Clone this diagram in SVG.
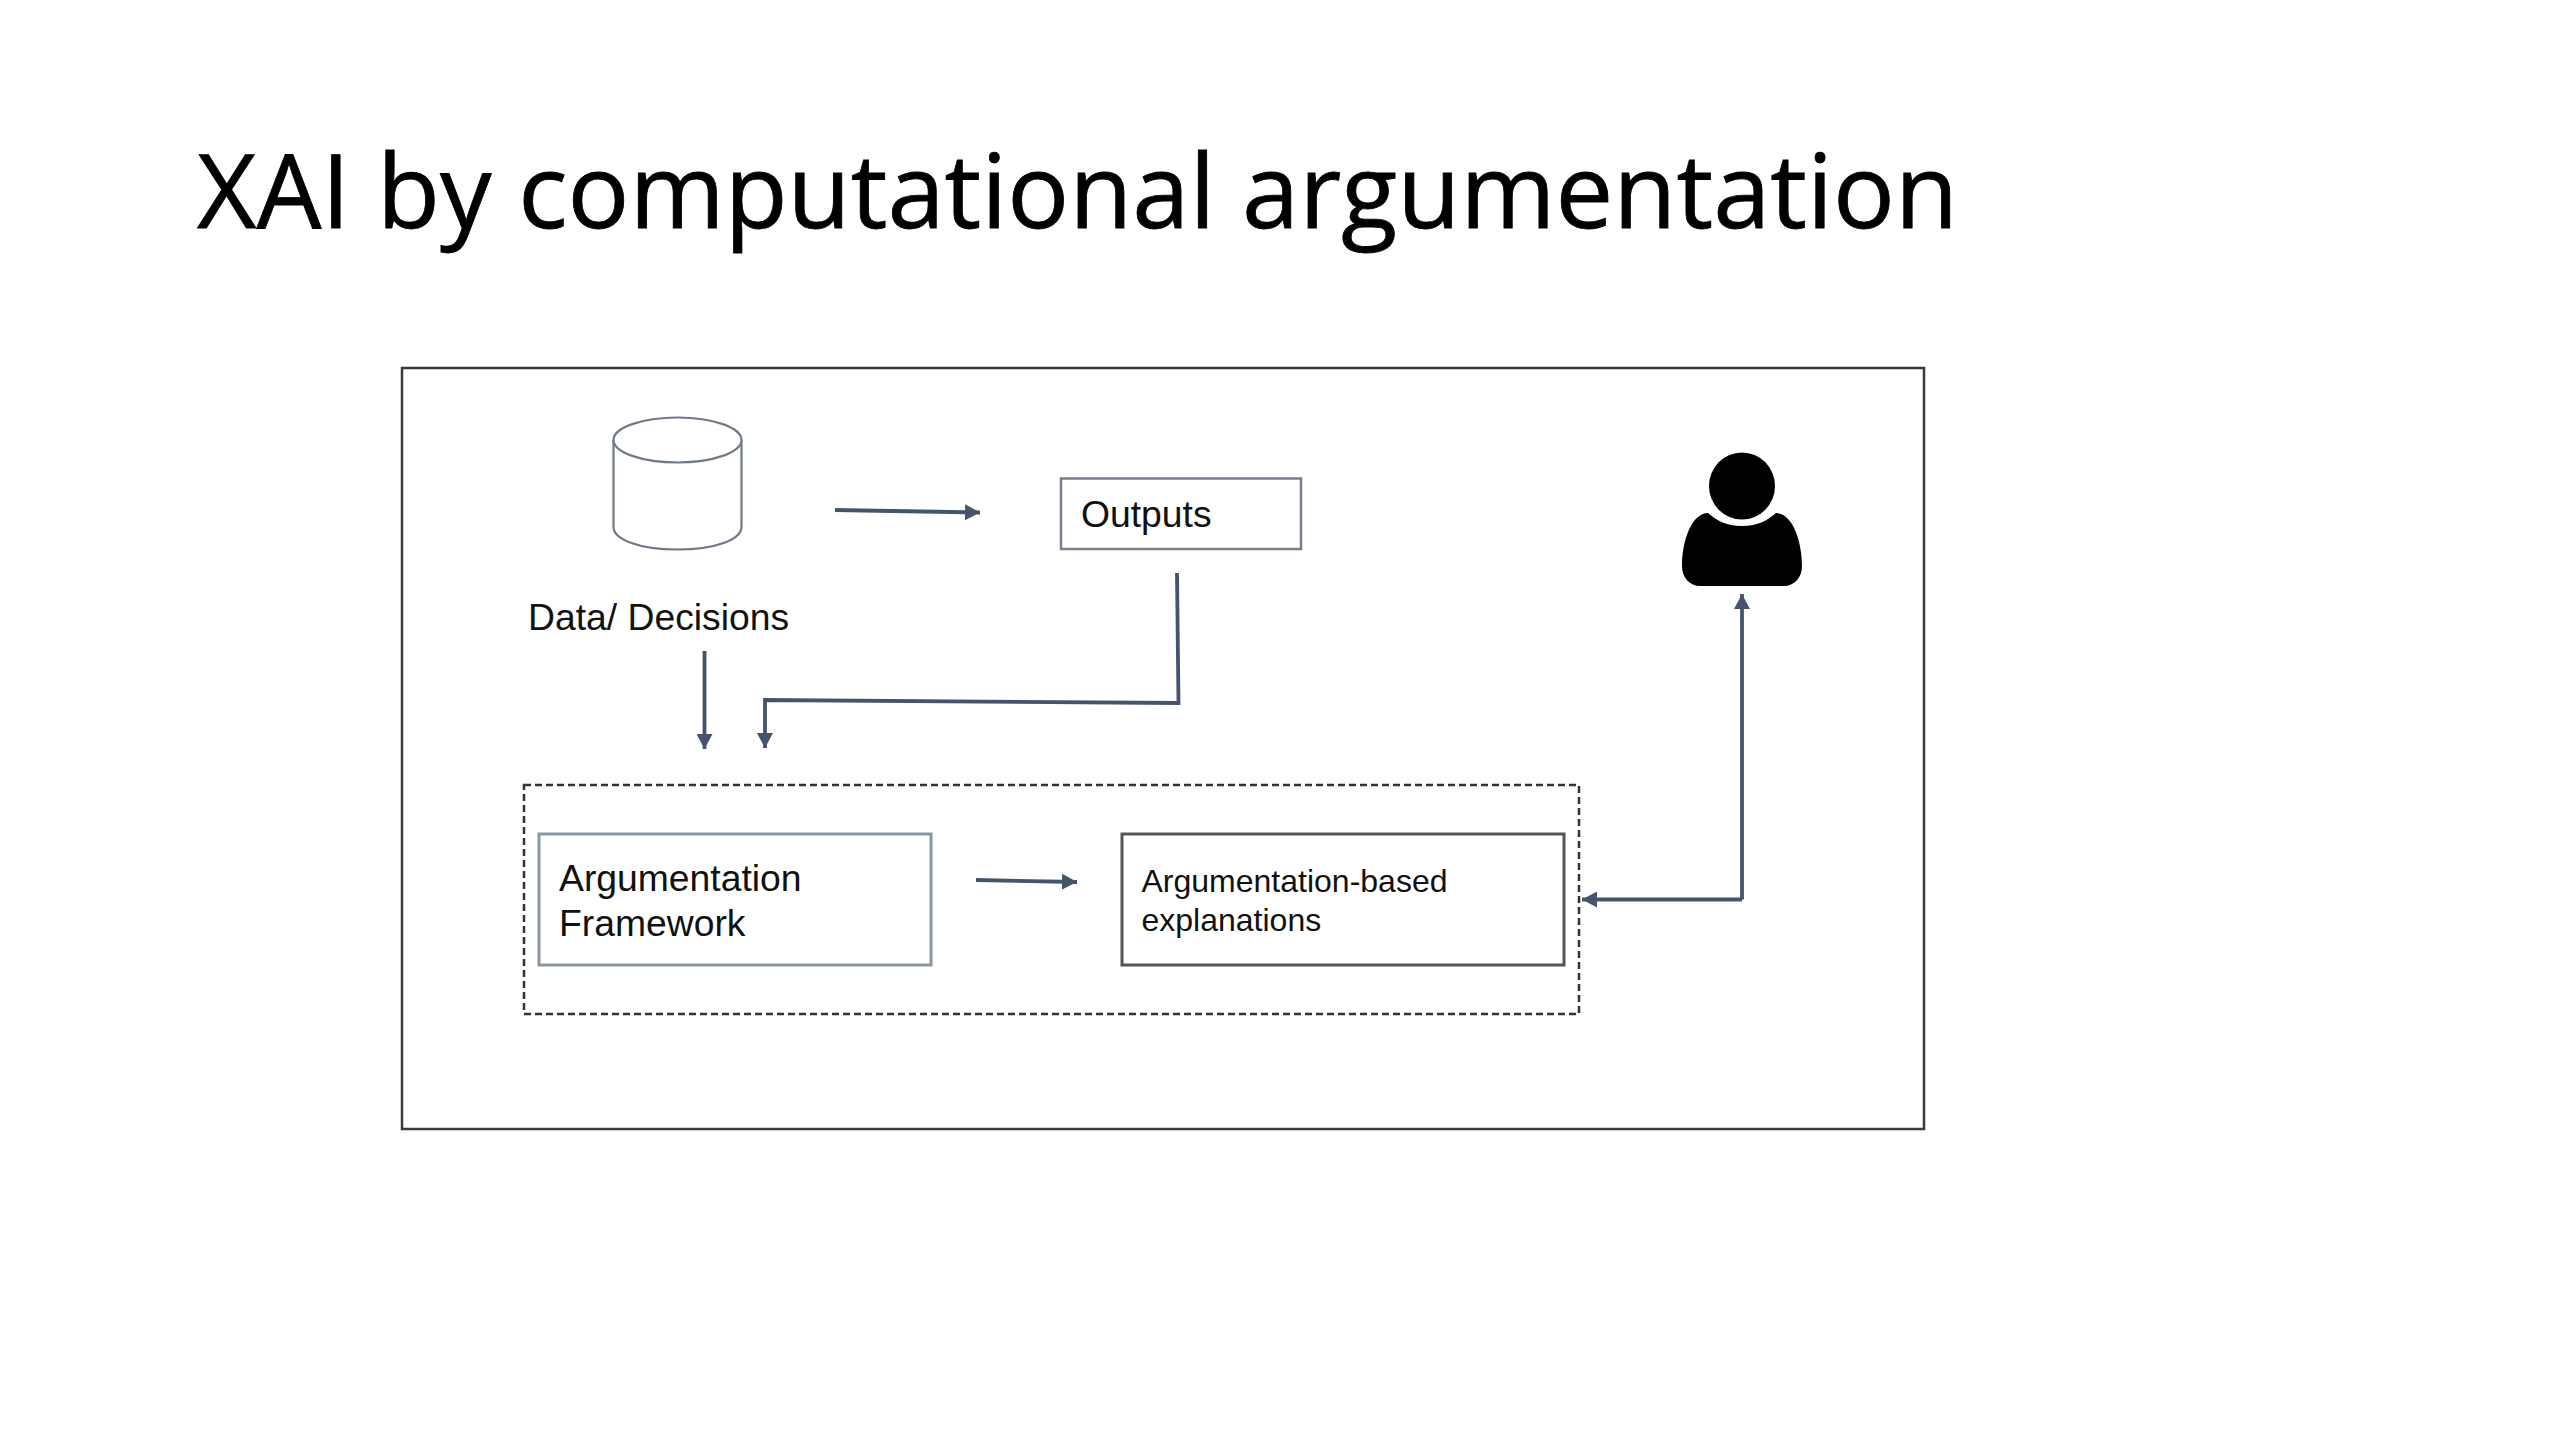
<svg xmlns="http://www.w3.org/2000/svg" width="2560" height="1440" viewBox="0 0 2560 1440">
  <style>
    text { font-family: "Liberation Sans", Arial, sans-serif; fill: #111; }
    .title { font-family: "Open Sans", "Noto Sans", sans-serif; font-size: 102px; fill: #000; stroke: #000; stroke-width: 0.8px; }
    .t37 { font-size: 37.300px; }
    .t32 { font-size: 32px; }
    .box { fill: #fff; }
    .conn { fill: none; stroke: #44546a; stroke-width: 3.800; marker-end: url(#arrow); }
  </style>
  <defs>
    <marker id="arrow" markerUnits="userSpaceOnUse" markerWidth="18" markerHeight="16" refX="15" refY="8" orient="auto">
      <path d="M0 0L15 8L0 16Z" fill="#44546a"/>
    </marker>
  </defs>
  <rect width="2560" height="1440" fill="#fff"/>
  <text id="title" class="title" x="197" y="228" textLength="1761" lengthAdjust="spacingAndGlyphs">XAI by computational argumentation</text>
  <g id="frame"><rect x="402" y="368" width="1522" height="761" fill="none" stroke="#3a3a3a" stroke-width="2.500"/></g>
  <g id="group"><rect x="524" y="785" width="1055" height="229" fill="none" stroke="#333" stroke-width="2.500" stroke-dasharray="7 4"/></g>
  <g id="data">
    <path d="M613.500 440V527C613.500 539 638 549.500 677.500 549.500S741.500 539 741.500 527V440" fill="#fff" stroke="#6f7a89" stroke-width="2.200"/>
    <ellipse cx="677.500" cy="440" rx="64" ry="22.500" fill="#fff" stroke="#6f7a89" stroke-width="2.200"/>
    <text class="t37" x="528" y="630">Data/ Decisions</text>
  </g>
  <g id="outputs">
    <rect class="box" x="1061" y="478.500" width="240" height="70.500" stroke="#76808f" stroke-width="2.500"/>
    <text class="t37" x="1081" y="527">Outputs</text>
  </g>
  <g id="user">
    <path d="M1708 513C1716 520 1726 526 1742 526S1768 520 1776 513C1792 513 1802 540 1802 566C1802 578 1794 586 1784 586H1700C1690 586 1682 578 1682 566C1682 540 1692 513 1708 513Z" fill="#000"/>
    <ellipse cx="1742" cy="486" rx="33" ry="33.500" fill="#000"/>
  </g>
  <g id="framework">
    <rect class="box" x="539" y="834" width="392" height="131" stroke="#8c95a3" stroke-width="3"/>
    <text class="t37" x="559" y="891">Argumentation</text>
    <text class="t37" x="559" y="936">Framework</text>
  </g>
  <g id="explanations">
    <rect class="box" x="1122" y="834" width="442" height="131" stroke="#555" stroke-width="3"/>
    <text class="t32" x="1141.500" y="892">Argumentation-based</text>
    <text class="t32" x="1141.500" y="931">explanations</text>
  </g>
  <g id="connectors">
    <path class="conn" d="M835 510L980 512.500"/>
    <path class="conn" d="M704.500 651V749"/>
    <path class="conn" d="M1177 573L1178.500 703L765 700V748"/>
    <path class="conn" d="M976 880L1077 882"/>
    <path class="conn" d="M1742 899.500V594"/>
    <path class="conn" d="M1742 899.500H1582"/>
  </g>
</svg>
